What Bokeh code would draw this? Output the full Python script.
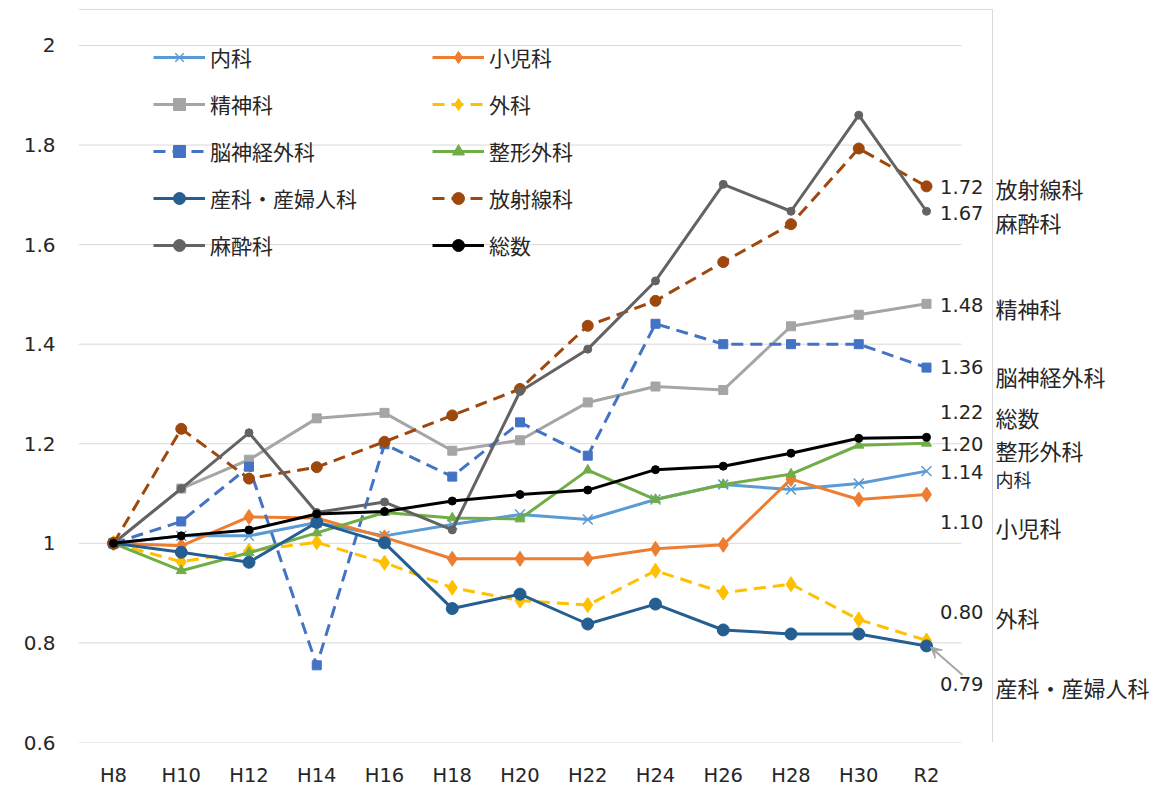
from bokeh.plotting import figure
from bokeh.models import (Legend, LegendItem, FixedTicker, ColumnDataSource,
                          Arrow, VeeHead)
from bokeh.core.properties import value
from bokeh.embed import file_html
from bokeh.resources import INLINE

# ---------------- data ----------------
years = ["H8", "H10", "H12", "H14", "H16", "H18", "H20", "H22", "H24", "H26", "H28", "H30", "R2"]

naika = [1.0, 1.015, 1.015, 1.042, 1.015, 1.038, 1.058, 1.048, 1.088, 1.118, 1.108, 1.12, 1.145]
shonika = [1.0, 0.995, 1.053, 1.051, 1.012, 0.969, 0.969, 0.969, 0.989, 0.997, 1.129, 1.088, 1.098]
seishinka = [1.0, 1.11, 1.168, 1.251, 1.262, 1.186, 1.207, 1.283, 1.315, 1.308, 1.436, 1.459, 1.481]
geka = [1.0, 0.963, 0.985, 1.002, 0.961, 0.911, 0.885, 0.876, 0.945, 0.901, 0.918, 0.847, 0.805]
noshinkei = [1.0, 1.044, 1.154, 0.755, 1.199, 1.134, 1.243, 1.176, 1.441, 1.40, 1.40, 1.40, 1.353]
seikei = [1.0, 0.945, 0.981, 1.021, 1.062, 1.051, 1.049, 1.147, 1.088, 1.118, 1.139, 1.197, 1.201]
sanka = [1.0, 0.982, 0.962, 1.042, 1.001, 0.869, 0.898, 0.838, 0.878, 0.826, 0.818, 0.818, 0.794]
hoshasen = [1.0, 1.23, 1.13, 1.153, 1.204, 1.257, 1.31, 1.437, 1.487, 1.565, 1.641, 1.793, 1.717]
masui = [1.0, 1.11, 1.222, 1.062, 1.083, 1.027, 1.305, 1.39, 1.527, 1.721, 1.667, 1.86, 1.667]
sosu = [1.0, 1.015, 1.027, 1.059, 1.064, 1.085, 1.098, 1.107, 1.148, 1.155, 1.181, 1.211, 1.213]

series_names = ["内科", "小児科", "精神科", "外科", "脳神経外科", "整形外科",
                "産科・産婦人科", "放射線科", "麻酔科", "総数"]
series_values = [naika, shonika, seishinka, geka, noshinkei, seikei,
                 sanka, hoshasen, masui, sosu]

y_ticks = [0.6, 0.8, 1.0, 1.2, 1.4, 1.6, 1.8, 2.0]
y_tick_labels = ["0.6", "0.8", "1", "1.2", "1.4", "1.6", "1.8", "2"]

end_label_values = ["1.72", "1.67", "1.48", "1.36", "1.22", "1.20", "1.14", "1.10", "0.80", "0.79"]
end_label_names = ["放射線科", "麻酔科", "精神科", "脳神経外科", "総数", "整形外科",
                   "内科", "小児科", "外科", "産科・産婦人科"]

# ---------------- layout / styles ----------------
value_label_y = [1.7152, 1.6628, 1.4786, 1.3533, 1.2633, 1.1987, 1.1436, 1.0432, 0.8616, 0.7166]
name_label_y = [1.713, 1.6457, 1.4718, 1.3352, 1.2529, 1.1866, 1.1291, 1.032, 0.8512, 0.711]
name_label_size = ["22px", "22px", "22px", "22px", "22px", "22px", "18px", "22px", "22px", "22px"]

styles = {
    "内科": dict(color="#5B9BD5", marker="x", size=14, dash="solid"),
    "小児科": dict(color="#ED7D31", marker="diamond", size=15, dash="solid"),
    "精神科": dict(color="#A5A5A5", marker="square", size=9, dash="solid"),
    "外科": dict(color="#FFC000", marker="diamond", size=15, dash="12 7"),
    "脳神経外科": dict(color="#4472C4", marker="square", size=9, dash="12 7"),
    "整形外科": dict(color="#70AD47", marker="triangle", size=10, dash="solid"),
    "産科・産婦人科": dict(color="#255E91", marker="circle", size=12, dash="solid"),
    "放射線科": dict(color="#9E480E", marker="circle", size=11, dash="12 7"),
    "麻酔科": dict(color="#636363", marker="circle", size=8, dash="solid"),
    "総数": dict(color="#000000", marker="circle", size=8, dash="solid"),
}

W, H = 1157, 790
LEFT, BOTTOM = 78, 48
PX_X = 67.75     # px per category step
PX_Y = 497.9     # px per unit
frame_w = W - LEFT
frame_h = H - BOTTOM
x0 = -35 / PX_X
y0 = 0.6

TEXT = "#262626"
GRID = "#d9d9d9"
NUM_FONT = "DejaVu Sans"
JP_FONT = "Noto Sans CJK JP"

p = figure(width=W, height=H, output_backend="svg", toolbar_location=None,
           x_range=(x0, x0 + frame_w / PX_X), y_range=(y0, y0 + frame_h / PX_Y),
           min_border_left=LEFT, min_border_right=0, min_border_top=0,
           min_border_bottom=BOTTOM)
p.outline_line_color = None
p.xgrid.visible = False
p.ygrid.visible = False
p.background_fill_color = "white"
p.border_fill_color = "white"

# axes
xi = list(range(len(years)))
p.xaxis.ticker = FixedTicker(ticks=xi)
p.xaxis.major_label_overrides = {i: t for i, t in zip(xi, years)}
p.yaxis.ticker = FixedTicker(ticks=y_ticks)
p.yaxis.major_label_overrides = {v: t for v, t in zip(y_ticks, y_tick_labels)}
for ax in (p.xaxis, p.yaxis):
    ax.axis_line_color = None
    ax.major_tick_line_color = None
    ax.minor_tick_line_color = None
    ax.major_tick_out = 0
    ax.major_tick_in = 0
    ax.major_label_text_color = TEXT
    ax.major_label_text_font = NUM_FONT
p.xaxis.major_label_text_font_size = "19.5px"
p.yaxis.major_label_text_font_size = "20px"
p.xaxis.major_label_standoff = 21
p.yaxis.major_label_standoff = 23

# gridlines (only across the chart's plot area)
grid_x1 = (961 - 113) / PX_X
p.segment(x0=[x0] * len(y_ticks), x1=[grid_x1] * len(y_ticks), y0=y_ticks, y1=y_ticks,
          line_color=GRID, line_width=1)
# chart-area border (top and right edges)
border_x = (992 - 113) / PX_X
border_top = 2.0 + 36 / PX_Y
p.segment(x0=[x0, border_x], x1=[border_x, border_x], y0=[border_top, border_top],
          y1=[border_top, y0], line_color=GRID, line_width=1)

# series
items = {}
for name, vals in zip(series_names, series_values):
    st = styles[name]
    src = ColumnDataSource(dict(x=xi, y=vals))
    ln = p.line("x", "y", source=src, line_color=st["color"], line_width=3,
                line_dash=st["dash"], line_join="round")
    if st["marker"] == "x":
        mk = p.scatter("x", "y", source=src, marker="x", size=st["size"],
                       line_color=st["color"], line_width=1.5)
    else:
        mk = p.scatter("x", "y", source=src, marker=st["marker"], size=st["size"],
                       fill_color=st["color"], line_color=st["color"], line_width=1)
    items[name] = LegendItem(label=name, renderers=[ln, mk])

# legends (two columns)
col1 = ["内科", "精神科", "脳神経外科", "産科・産婦人科", "麻酔科"]
col2 = ["小児科", "外科", "整形外科", "放射線科", "総数"]
for names, vx in ((col1, 75), (col2, 354)):
    lg = Legend(items=[items[n] for n in names], location=(vx, 482),
                orientation="vertical", glyph_width=52, glyph_height=30,
                label_height=20, label_standoff=5, spacing=17, padding=0, margin=0,
                border_line_color=None, background_fill_alpha=0,
                label_text_font=JP_FONT, label_text_font_size="21px",
                label_text_color=TEXT, label_text_baseline="middle")
    p.add_layout(lg)

# end labels
last_x = xi[-1]
vsrc = ColumnDataSource(dict(x=[last_x] * len(end_label_values), y=value_label_y,
                             text=end_label_values))
p.text("x", "y", text="text", source=vsrc, x_offset=57, text_align="right",
       text_baseline="middle", text_font=value(NUM_FONT), text_font_size="19.5px",
       text_color=TEXT)
nsrc = ColumnDataSource(dict(x=[last_x] * len(end_label_names), y=name_label_y,
                             text=end_label_names, size=name_label_size))
p.text("x", "y", text="text", source=nsrc, x_offset=69, text_align="left",
       text_baseline="middle", text_font=value(JP_FONT), text_font_size="size",
       text_color=TEXT)

# leader arrow to 産科・産婦人科 end point
sx, sy = last_x, sanka[-1]
p.add_layout(Arrow(end=VeeHead(size=11, fill_color="#A6A6A6", line_color="#A6A6A6"),
                   x_start=sx + 36 / PX_X, y_start=sy - 29 / PX_Y,
                   x_end=sx + 4 / PX_X, y_end=sy - 1 / PX_Y,
                   line_color="#A6A6A6", line_width=2))

open("out.html", "w").write(file_html(p, INLINE))
